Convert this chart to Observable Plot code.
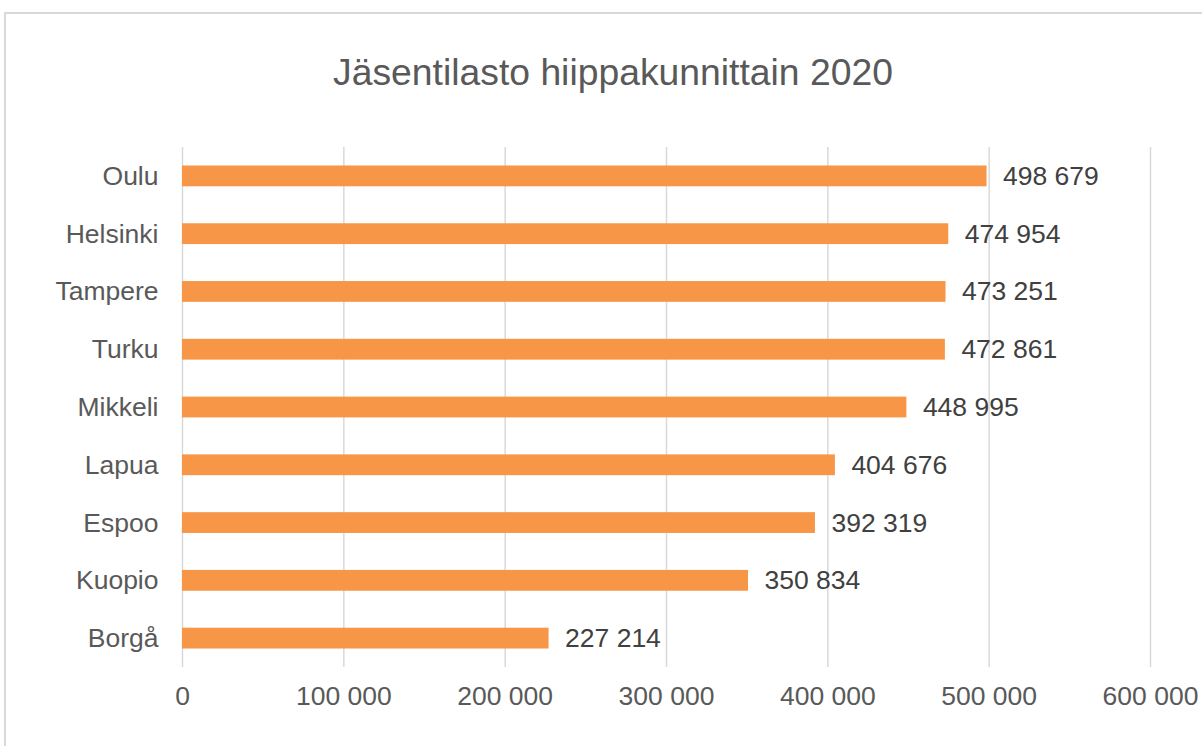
<!DOCTYPE html>
<html>
<head>
<meta charset="utf-8">
<script src="https://cdn.jsdelivr.net/npm/d3@7"></script>
<script src="https://cdn.jsdelivr.net/npm/@observablehq/plot@0.6"></script>
<style>
  html, body { margin: 0; padding: 0; background: #fff; }
  #wrap { position: relative; width: 1202px; height: 746px; overflow: hidden; background: #fff; font-family: "Liberation Sans", Arial, sans-serif; }
  #frame { position: absolute; left: 4px; top: 12px; width: 1220px; height: 760px; border: 2px solid #d9d9d9; box-sizing: border-box; }
  #title { position: absolute; left: 0; top: 49px; width: 1226px; text-align: center; font-size: 37.3px; color: #595959; line-height: 46px; }
  #chart { position: absolute; left: 0; top: 0; }
</style>
</head>
<body>
<div id="wrap">
  <div id="frame"></div>
  <div id="title">Jäsentilasto hiippakunnittain 2020</div>
  <div id="chart"></div>
</div>
<script>
const categories = ["Oulu", "Helsinki", "Tampere", "Turku", "Mikkeli", "Lapua", "Espoo", "Kuopio", "Borgå"];
const values = [498679, 474954, 473251, 472861, 448995, 404676, 392319, 350834, 227214];
const xTicks = [0, 100000, 200000, 300000, 400000, 500000, 600000];

const data = categories.map((c, i) => ({category: c, value: values[i]}));
const fmt = v => d3.format(",")(v).replace(/,/g, " ");

const plot = Plot.plot({
  width: 1202,
  height: 746,
  marginLeft: 182,
  marginRight: 52,
  marginTop: 147,
  marginBottom: 79,
  style: {fontFamily: "'Liberation Sans', Arial, sans-serif", fontSize: "26.5px", color: "#595959", background: "transparent"},
  x: {domain: [0, 600000], ticks: xTicks, round: false},
  y: {domain: categories, paddingInner: 0.64, paddingOuter: 0.32, round: false},
  marks: [
    Plot.gridX(xTicks, {stroke: "#d9d9d9", strokeOpacity: 1, strokeWidth: 1.5}),
    Plot.barX(data, {x: "value", y: "category", fill: "#F79646"}),
    Plot.text(data, {x: "value", y: "category", text: d => fmt(d.value), textAnchor: "start", dx: 16, fill: "#404040", fontSize: 26.5}),
    Plot.axisX({ticks: xTicks, tickFormat: fmt, tickSize: 0, tickPadding: 19, fontSize: 26.5, fill: "#595959", label: null}),
    Plot.axisY({tickSize: 0, tickPadding: 24, fontSize: 26.5, fill: "#595959", label: null})
  ]
});
document.getElementById("chart").appendChild(plot);
</script>
</body>
</html>
